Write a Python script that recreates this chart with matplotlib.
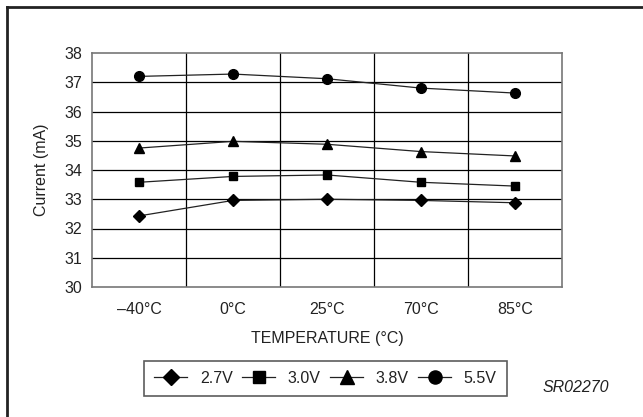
import matplotlib
matplotlib.use("Agg")
import matplotlib.pyplot as plt

plt.rcParams['font.family'] = ['Liberation Sans', 'DejaVu Sans']

temps = ['\u201340\u00b0C', '0\u00b0C', '25\u00b0C', '70\u00b0C', '85\u00b0C']
v27 = [32.43, 32.96, 33.0, 32.96, 32.88]
v30 = [33.58, 33.78, 33.83, 33.58, 33.45]
v38 = [34.75, 34.98, 34.88, 34.63, 34.48]
v55 = [37.2, 37.28, 37.12, 36.8, 36.63]

series = [('2.7V', v27, 'D', 6), ('3.0V', v30, 's', 6),
          ('3.8V', v38, '^', 7), ('5.5V', v55, 'o', 7)]

fs = 11.5
fig = plt.figure(figsize=(6.43, 4.17), dpi=100)
ax = fig.add_axes([92/643, 1-287/417, 470/643, 234/417])

x = range(len(temps))
for name, vals, mk, ms in series:
    ax.plot(x, vals, color='#222222', lw=0.9, marker=mk, ms=ms,
            mfc='black', mec='black', label=name)

ax.set_xlim(-0.5, 4.5)
ax.set_ylim(30, 38)
ax.set_yticks(range(30, 39))
ax.set_xticks(list(x))
ax.set_xticklabels(temps, fontsize=fs)
ax.tick_params(axis='y', labelsize=fs, length=0, pad=7, colors='#222222')
ax.tick_params(axis='x', length=0, pad=10.5, colors='#222222')
ax.grid(False)
for yy in range(31, 38):
    ax.axhline(yy, color='black', lw=0.9, zorder=0)
for xx in [0.5, 1.5, 2.5, 3.5]:
    ax.axvline(xx, color='black', lw=0.9, zorder=0)
for s in ax.spines.values():
    s.set_color('#777777')
    s.set_linewidth(1.2)

ax.set_ylabel('Current (mA)', fontsize=fs, color='#222222')
ax.yaxis.set_label_coords(-0.092, 0.5)
ax.set_xlabel('TEMPERATURE (\u00b0C)', fontsize=fs, color='#222222')
ax.xaxis.set_label_coords(0.5, -0.19)

leg = fig.legend(loc='center', bbox_to_anchor=(325.5/643, 1-378.5/417), ncol=4,
                 fontsize=fs, frameon=True, fancybox=False, handlelength=2.05,
                 columnspacing=0.6, handletextpad=0.8, borderpad=0.65,
                 markerscale=1.35)
leg.get_frame().set_edgecolor('#333333')
leg.get_frame().set_linewidth(1.2)
for t in leg.get_texts():
    t.set_color('#222222')

fig.text(576/643, 1-388/417, 'SR02270', fontsize=fs, style='italic',
         ha='center', va='center', color='#222222')

# partial outer frame (top and left)
fig.add_artist(plt.Line2D([7/643, 1], [1-7/417, 1-7/417], color='#222222', lw=2))
fig.add_artist(plt.Line2D([7/643, 7/643], [0, 1-7/417], color='#222222', lw=2))

fig.savefig('out.png', dpi=100)
